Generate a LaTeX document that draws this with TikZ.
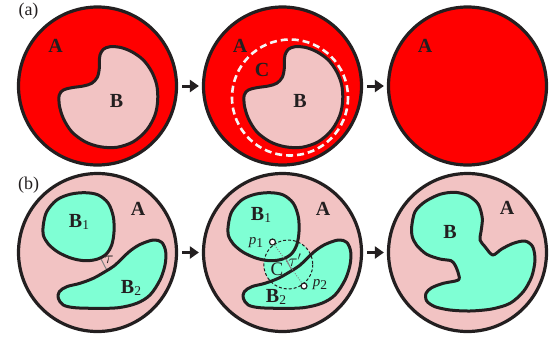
\documentclass[tikz,border=0pt]{standalone}
\usepackage{fontspec}
\setmainfont{Liberation Serif}
\usetikzlibrary{arrows.meta}
\definecolor{outl}{HTML}{231F20}
\definecolor{redA}{HTML}{FF0000}
\definecolor{pinkA}{HTML}{F2C3C3}
\definecolor{aquaB}{HTML}{7FFFD4}
\newcommand\myBa{plot[smooth cycle,tension=0.55] coordinates {(100,55) (103.3,49.3) (110,46.7) (120,47.3) (131.7,51.7) (143.3,60) (151.7,71.7) (156.7,85) (157.7,100) (155,115) (146.7,130) (133.3,141.7) (116.7,147.3) (100,146.7) (85,141.7) (71.7,131.7) (63.3,118.3) (59.3,105) (59.3,95) (63.3,90) (71.7,87.7) (83.3,86) (91.7,83.3) (97.3,77.3) (99.3,68.3) (99.3,60)}}
\newcommand\myBbone{plot[smooth cycle,tension=0.55] coordinates {(43.3,225) (46.7,211.7) (56.7,200) (70,194.3) (85,192.7) (98.3,195) (108.3,203.3) (113.3,216.7) (114,231.7) (111.7,245) (106,254.3) (96.7,259.3) (85,260.7) (71.7,258.3) (58.3,252.3) (48.3,244) (43.3,235)}}
\newcommand\myBbtwo{plot[smooth cycle,tension=0.55] coordinates {(58.3,298.3) (59.3,291.7) (66.7,286.7) (80,283.3) (93.3,278.3) (105,271.7) (114,266) (122,258.5) (130,251) (140,244.5) (153.3,240) (161.7,242.3) (165.7,251.7) (165,265) (160,280) (150,295) (136.7,303.3) (118.3,307.7) (96.7,308.3) (75,307.7) (63.3,305)}}
\newcommand\myBmerged{plot[smooth cycle,tension=0.5] coordinates {(411.7,226.7) (415,211.7) (425,201.7) (440,194.3) (455,192.3) (468.3,195.7) (478.3,204.3) (482.3,218.3) (481,231.7) (480,240) (485,246.7) (492.7,255) (501.7,249) (513.3,243.3) (525,241) (532.7,246.7) (535,260) (531.7,276.7) (523.3,291.7) (510,303.3) (491.7,309) (470,311) (450,310) (435,306.7) (426.7,301) (426,293.3) (431.7,287.7) (443.3,283.3) (458.3,280) (458.3,273.3) (455,265) (451,260.7) (440,259) (426.7,254.3) (416.7,245.3) (412.3,236.7)}}
\newcommand\subn[1]{\raisebox{-0.3ex}{\fontsize{13.5}{13.5}\selectfont\mdseries\upshape #1}}
\begin{document}
\begin{tikzpicture}[x=1pt,y=-1pt,
  big/.style={circle,draw=outl,line width=3.2pt,minimum size=158pt,inner sep=0pt},
  blob/.style={draw=outl,line width=3pt,line join=round},
  arr/.style={-{Triangle[length=9pt,width=12pt]},line width=3pt,draw=outl,fill=outl,shorten <=4pt,shorten >=3pt},
  lab/.style={font=\fontsize{20}{20}\selectfont\bfseries,inner sep=0pt,text=outl},
  labr/.style={font=\fontsize{19}{19}\selectfont,inner sep=0pt,text=outl},
  panel/.style={font=\fontsize{18}{18}\selectfont,inner sep=0pt,text=outl},
  small/.style={font=\fontsize{15}{15}\selectfont\itshape,inner sep=0pt,text=outl},
  taulab/.style={font=\fontsize{17}{17}\selectfont,inner sep=0pt,text=outl},
  wdash/.style={draw=white!92!gray,line width=2.6pt,dash pattern=on 7pt off 4pt},
  kdash/.style={draw=outl,line width=1pt,dash pattern=on 3pt off 2pt},
  taul/.style={draw=gray,line width=1pt},
  pdot/.style={draw=gray,line width=0.9pt,dash pattern=on 1pt off 1.5pt},
  pt/.style={circle,draw=outl,fill=white,line width=1.2pt,minimum size=6pt,inner sep=0pt}
]
\useasboundingbox (0,0) rectangle (557,341);
% ---------- row (a)
\node[panel] (pa) at (28.5,11.5) {(a)};
\node[big,fill=redA] (a1) at (97.5,86) {};
\filldraw[blob,fill=pinkA] \myBa;
\node[lab] (a1A) at (55.5,45.5) {A};
\node[lab] (a1B) at (116.5,100.5) {B};

\node[big,fill=redA] (a2) at (282.5,86) {};
\begin{scope}[xshift=185pt]
\filldraw[blob,fill=pinkA] \myBa;
\end{scope}
\draw[wdash] (290,97.5) circle[radius=58];
\node[lab] (a2A) at (240,45.5) {A};
\node[lab] (a2C) at (262,70) {C};
\node[lab] (a2B) at (300,100.5) {B};

\node[big,fill=redA] (a3) at (467.5,86) {};
\node[lab] (a3A) at (425,45.5) {A};

\draw[arr] (a1.east) -- (a2.west);
\draw[arr] (a2.east) -- (a3.west);

% ---------- row (b)
\node[panel] (pb) at (28.5,185) {(b)};
\node[big,fill=pinkA] (b1) at (97.5,252.5) {};
\draw[taul] (100,257) -- (107,270.5);
\filldraw[blob,fill=aquaB] \myBbone;
\filldraw[blob,fill=aquaB] \myBbtwo;
\node[lab] (b1A) at (138,209) {A};
\node[lab] (b1B1) at (79,222) {B\subn{1}};
\node[lab] (b1B2) at (131,288) {B\subn{2}};
\node[taulab] (b1t) at (109,260) {$\tau$};

\node[big,fill=pinkA] (b2) at (282.5,252.5) {};
\fill[aquaB] (288.3,264.5) circle[radius=24.5];
\draw[taul] (285,257) -- (292,270.5);
\begin{scope}[xshift=185pt]
\filldraw[blob,fill=aquaB] \myBbone;
\filldraw[blob,fill=aquaB] \myBbtwo;
\end{scope}
\draw[kdash] (288.3,264.5) circle[radius=24.5];
\node[pt] (p1) at (272.5,242) {};
\node[pt] (p2) at (304,286) {};
\draw[pdot] (p1) -- (p2);
\node[lab] (b2A) at (323,209) {A};
\node[lab] (b2B1) at (261,215) {B\subn{1}};
\node[lab] (b2B2) at (276,297) {B\subn{2}};
\node[labr] (b2C) at (277,269) {C};
\node[taulab] (b2t) at (295,260) {$\tau'$};
\node[small] (b2p1) at (256,243) {p\subn{1}};
\node[small] (b2p2) at (320,285) {p\subn{2}};

\node[big,fill=pinkA] (b3) at (467.5,252.5) {};
\filldraw[blob,fill=aquaB] \myBmerged;
\node[lab] (b3A) at (507,208) {A};
\node[lab] (b3B) at (450,232) {B};

\draw[arr] (b1.east) -- (b2.west);
\draw[arr] (b2.east) -- (b3.west);
\end{tikzpicture}
\end{document}
